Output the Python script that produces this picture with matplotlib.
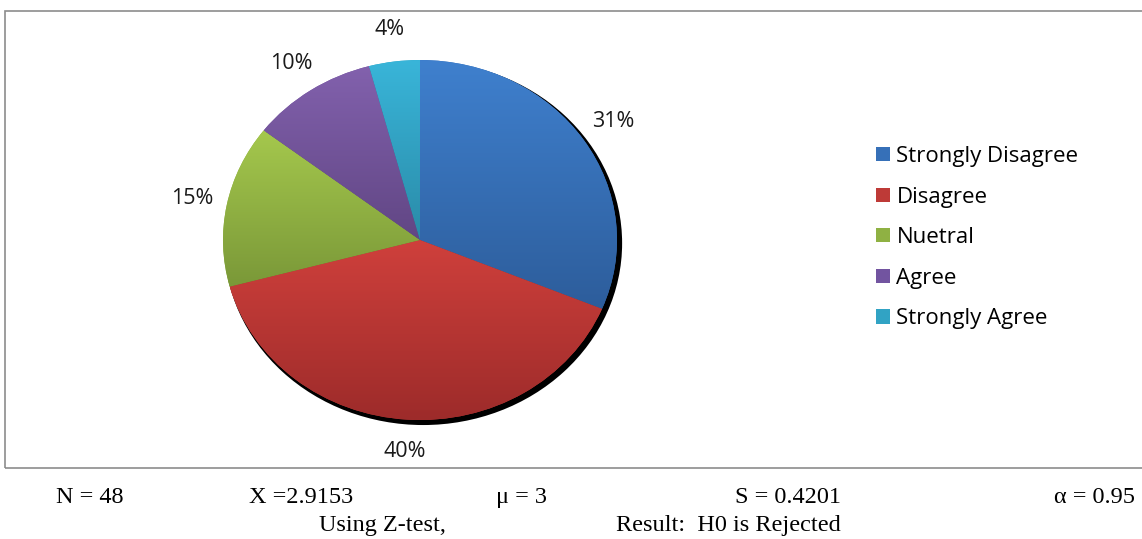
import matplotlib

matplotlib.use("Agg")
import matplotlib.pyplot as plt
import numpy as np
from matplotlib.colors import LinearSegmentedColormap
from matplotlib.patches import Ellipse, Patch, Rectangle

W, H = 1142, 539

# survey responses (N = 48)
CATEGORIES = ["Strongly Disagree", "Disagree", "Nuetral", "Agree", "Strongly Agree"]
COUNTS = [15, 19, 7, 5, 2]

STATS_ROW1 = ["N = 48", "X =2.9153", "\u03bc = 3", "S = 0.4201", "\u03b1 = 0.95"]
STATS_ROW2 = ["Using Z-test,", "Result:  H0 is Rejected"]

# gradient colours per slice: (top, bottom)
SHADES = [
    ("#3f80ce", "#2d5d9b"),
    ("#cf403c", "#9d2b2a"),
    ("#a5c84d", "#7a9838"),
    ("#8261ad", "#614684"),
    ("#39b5d9", "#2a8ba8"),
]
BASE = ["#3670b8", "#be3a37", "#8fb143", "#7254a0", "#31a3c4"]

LABEL_FONT = ["Open Sans", "DejaVu Sans"]
SERIF = ["Liberation Serif", "DejaVu Serif"]


def px(x, y):
    # image pixel (top-left origin) -> figure fraction
    return x / W, 1 - y / H


fig = plt.figure(figsize=(W / 100, H / 100), dpi=100)

# chart frame
fig.patches.append(Rectangle(px(5, 468), (1160 - 5) / W, (468 - 11) / H,
                             transform=fig.transFigure, fill=False,
                             edgecolor="#8c8c8c", lw=1.2))

# pie axes: centre (420, 240), radii 197 x 180 px
cx, cy, rx, ry = 420, 240, 197, 180
lim = 1.3
l, b = px(cx - rx * lim, cy + ry * lim)
ax = fig.add_axes([l, b, 2 * rx * lim / W, 2 * ry * lim / H])

ax.add_patch(Ellipse((0.016, -0.018), 2.02, 2.02, facecolor="black",
                     edgecolor="none", zorder=0))

wedges, texts, autotexts = ax.pie(
    COUNTS, colors=BASE, startangle=90, counterclock=False,
    autopct="%1.0f%%", pctdistance=1.18,
    wedgeprops=dict(edgecolor="none", linewidth=0),
    textprops=dict(fontsize=15.5, family=LABEL_FONT, color="#1a1a1a"),
)
ax.set_aspect("auto")

grad = np.linspace(0, 1, 256).reshape(-1, 1)
for w, (top, bot) in zip(wedges, SHADES):
    ext = w.get_path().get_extents()
    cmap = LinearSegmentedColormap.from_list("g", [top, bot])
    im = ax.imshow(grad, cmap=cmap, aspect="auto", origin="upper",
                   extent=(ext.x0, ext.x1, ext.y0, ext.y1), zorder=2)
    im.set_clip_path(w)
ax.set_xlim(-lim, lim)
ax.set_ylim(-lim, lim)
ax.axis("off")

# legend
handles = [Patch(facecolor=c, edgecolor="none") for c in BASE]
fig.legend(handles, CATEGORIES, loc="upper left",
           bbox_to_anchor=px(876, 146), frameon=False,
           prop=dict(family=LABEL_FONT, size=16), handlelength=0.62,
           handleheight=0.62, handletextpad=0.3, labelspacing=0.88,
           borderpad=0, borderaxespad=0)

# statistics below the chart
for s, x in zip(STATS_ROW1, [56, 249, 496, 735, 1054]):
    fig.text(*px(x, 503), s, family=SERIF, fontsize=17.5, va="baseline")
for s, x in zip(STATS_ROW2, [319, 616]):
    fig.text(*px(x, 531), s, family=SERIF, fontsize=17.5, va="baseline")

fig.savefig("out.png", dpi=100)
